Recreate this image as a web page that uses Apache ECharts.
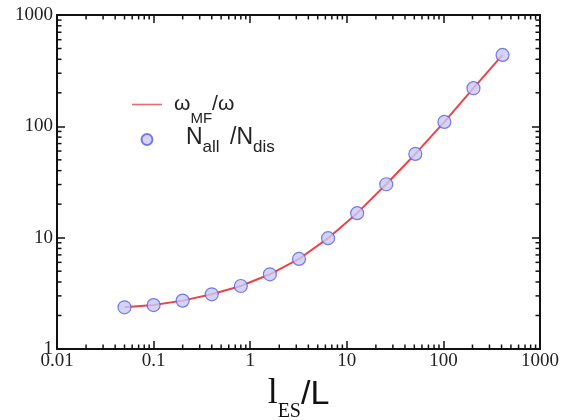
<!DOCTYPE html>
<html><head><meta charset="utf-8">
<script src="https://cdn.jsdelivr.net/npm/echarts@6/dist/echarts.min.js"></script>
<style>html,body{margin:0;padding:0;background:#fff}#c{width:576px;height:420px}</style>
</head><body><div id="c"></div>
<script>
const xValues = [0.05, 0.1, 0.2, 0.4, 0.8, 1.6, 3.2, 6.4, 12.8, 25.6, 51.2, 102.4, 204.8, 409.6];
const ratioOmega = [2.37, 2.48, 2.72, 3.1, 3.68, 4.69, 6.44, 9.9, 16.6, 30.2, 56.5, 109.6, 220, 438];
const ratioN = [2.37, 2.48, 2.72, 3.1, 3.68, 4.69, 6.44, 9.9, 16.6, 30.2, 56.5, 109.6, 220, 438];
const xTickLabels = ['0.01', '0.1', '1', '10', '100', '1000'];
const yTickLabels = ['1', '10', '100', '1000'];

const xMinor = [];
for (let e = -2; e < 3; e++) for (let m = 2; m <= 9; m++) xMinor.push(m * Math.pow(10, e));
const yMinor = [];
for (let e = 0; e < 3; e++) for (let m = 2; m <= 9; m++) yMinor.push(m * Math.pow(10, e));

const chart = echarts.init(document.getElementById('c'));
const axisColor = '#111';
const tickFont = {fontFamily: 'Liberation Serif', fontSize: 19, color: '#222'};

function minorRender(isX) {
  return function (params, api) {
    const v = api.value(0);
    const L = 4.5;
    let a, b;
    if (isX) {
      a = api.coord([v, 1]); b = api.coord([v, 1000]);
      return {type: 'group', children: [
        {type: 'line', shape: {x1: a[0], y1: a[1], x2: a[0], y2: a[1] - L}, style: {stroke: axisColor, lineWidth: 1.5}},
        {type: 'line', shape: {x1: b[0], y1: b[1], x2: b[0], y2: b[1] + L}, style: {stroke: axisColor, lineWidth: 1.5}}
      ]};
    } else {
      a = api.coord([0.01, v]); b = api.coord([1000, v]);
      return {type: 'group', children: [
        {type: 'line', shape: {x1: a[0], y1: a[1], x2: a[0] + L, y2: a[1]}, style: {stroke: axisColor, lineWidth: 1.5}},
        {type: 'line', shape: {x1: b[0], y1: b[1], x2: b[0] - L, y2: b[1]}, style: {stroke: axisColor, lineWidth: 1.5}}
      ]};
    }
  };
}

const pairs = (ys) => xValues.map((x, i) => [x, ys[i]]);

chart.setOption({
  animation: false,
  backgroundColor: '#fff',
  grid: {left: 57, right: 36, top: 15, bottom: 71, containLabel: false, outerBoundsMode: 'none'},
  xAxis: [{
    type: 'log', logBase: 10, min: 0.01, max: 1000,
    axisLine: {show: true, lineStyle: {color: axisColor, width: 2}},
    axisTick: {show: true, inside: true, length: 8, lineStyle: {color: axisColor, width: 1.5}},
    splitLine: {show: false},
    axisLabel: Object.assign({margin: 3, formatter: v => { const i = Math.round(Math.log10(v)) + 2; return xTickLabels[i] || ''; }}, tickFont),
    name: '{l|l}{sub|ES}{s|/L}',
    nameLocation: 'middle', nameGap: 22,
    nameTextStyle: {rich: {
      l: {fontFamily: 'Liberation Serif', fontSize: 36, lineHeight: 40, color: '#111', verticalAlign: 'bottom', padding: [0, 0, 10, 0]},
      sub: {fontFamily: 'Liberation Serif', fontSize: 20, lineHeight: 22, color: '#111', verticalAlign: 'bottom'},
      s: {fontFamily: 'Liberation Sans', fontSize: 34, lineHeight: 40, color: '#111', verticalAlign: 'bottom', padding: [0, 0, 10, 0]}
    }}
  }, {
    type: 'log', logBase: 10, min: 0.01, max: 1000, position: 'top',
    axisLine: {show: true, lineStyle: {color: axisColor, width: 2}},
    axisTick: {show: true, inside: true, length: 8, lineStyle: {color: axisColor, width: 1.5}},
    axisLabel: {show: false}, splitLine: {show: false}
  }],
  yAxis: [{
    type: 'log', logBase: 10, min: 1, max: 1000,
    axisLine: {show: true, lineStyle: {color: axisColor, width: 2}},
    axisTick: {show: true, inside: true, length: 8, lineStyle: {color: axisColor, width: 1.5}},
    splitLine: {show: false},
    axisLabel: Object.assign({margin: 4, formatter: v => { const i = Math.round(Math.log10(v)); return yTickLabels[i] || ''; }}, tickFont)
  }, {
    type: 'log', logBase: 10, min: 1, max: 1000, position: 'right',
    axisLine: {show: true, lineStyle: {color: axisColor, width: 2}},
    axisTick: {show: true, inside: true, length: 8, lineStyle: {color: axisColor, width: 1.5}},
    axisLabel: {show: false}, splitLine: {show: false}
  }],
  legend: {
    orient: 'vertical', left: 127, top: 89, itemGap: 0, padding: 5,
    itemWidth: 30, itemHeight: 11,
    data: [
      {name: 'omega', icon: 'path://M0,0H30V1.6H0Z'},
      {name: 'N'}
    ],
    formatter: n => n === 'omega' ? '{a0|ω}{sub|MF}{a|/ω}' : '{b0|N}{sub2|all}{b| /N}{sub2|dis}',
    textStyle: {rich: {
      a0: {fontFamily: 'Liberation Sans', fontSize: 21, lineHeight: 43, color: '#222', verticalAlign: 'bottom', padding: [0, 0, 11, 7]},
      a: {fontFamily: 'Liberation Sans', fontSize: 21, lineHeight: 43, color: '#222', verticalAlign: 'bottom', padding: [0, 0, 11, 0]},
      sub: {fontFamily: 'Liberation Sans', fontSize: 15, lineHeight: 43, color: '#222', verticalAlign: 'bottom'},
      b0: {fontFamily: 'Liberation Sans', fontSize: 23, lineHeight: 33, color: '#222', verticalAlign: 'bottom', padding: [0, 0, 7, 19]},
      b: {fontFamily: 'Liberation Sans', fontSize: 23, lineHeight: 33, color: '#222', verticalAlign: 'bottom', padding: [0, 0, 7, 4]},
      sub2: {fontFamily: 'Liberation Sans', fontSize: 17, lineHeight: 33, color: '#222', verticalAlign: 'bottom'}
    }}
  },
  series: [
    {name: 'omega', type: 'line', data: pairs(ratioOmega), showSymbol: false, symbol: 'none',
     lineStyle: {color: '#e8454a', width: 2}, itemStyle: {color: '#ec6a6e'}, z: 3},
    {name: 'N', type: 'scatter', data: pairs(ratioN), symbol: 'circle', symbolSize: 13,
     itemStyle: {color: '#c9c9f7', borderColor: '#5b5be0', borderWidth: 1.2}, z: 4},
    {type: 'custom', data: xMinor.map(v => [v]), renderItem: minorRender(true), silent: true, z: 2},
    {type: 'custom', data: yMinor.map(v => [v]), renderItem: minorRender(false), silent: true, z: 2}
  ]
});
</script></body></html>
